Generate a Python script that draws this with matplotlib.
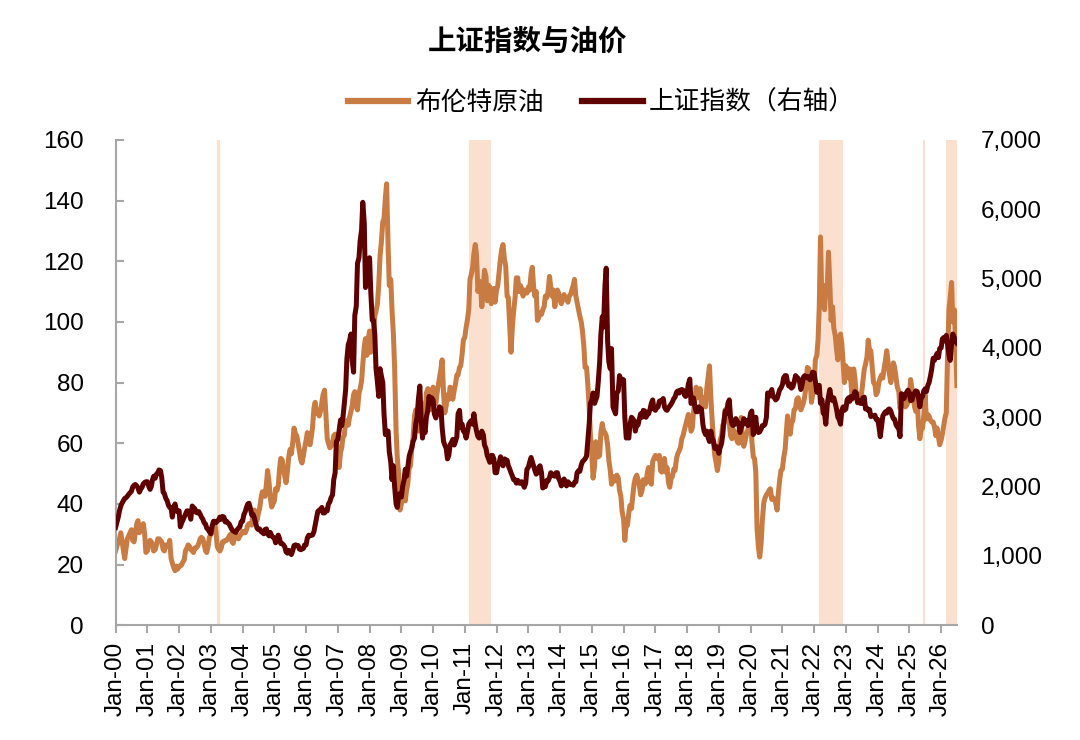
import numpy as np
import pandas as pd
import matplotlib
matplotlib.use("Agg")
import matplotlib.pyplot as plt
import matplotlib.dates as mdates
from matplotlib.ticker import FuncFormatter

plt.rcParams['font.family'] = ['Liberation Sans', 'Noto Sans CJK SC', 'DejaVu Sans']

# 半月度数据（每月1日与15日），2000-01 至 2026-07
dates = pd.date_range('2000-01-01', '2026-07-01', freq='SMS')

# 布伦特原油（美元/桶，左轴）
brent = [
    24.5, 26.0, 27.5, 28.5, 30.5, 28.0, 24.5, 22.0, 25.5, 28.5, 29.5, 30.5, 31.5, 28.0, 27.5, 30.5, 33.5, 34.5, 30.5, 32.5, 32.0, 33.5, 30.0, 24.0,  # 2000
    24.5, 26.5, 28.0, 27.5, 26.5, 24.5, 25.0, 26.5, 28.5, 28.5, 28.0, 27.5, 25.0, 24.5, 26.5, 26.0, 26.0, 28.0, 22.0, 20.5, 19.0, 18.0, 19.5, 18.5,  # 2001
    19.5, 19.5, 20.0, 21.0, 21.5, 24.5, 25.5, 26.5, 26.0, 25.0, 24.5, 24.0, 25.5, 25.5, 26.0, 27.0, 28.5, 29.0, 28.5, 27.0, 24.5, 24.0, 26.0, 29.0,  # 2002
    30.0, 31.0, 32.0, 33.5, 31.0, 26.0, 25.0, 24.5, 25.5, 27.5, 27.5, 28.0, 28.0, 28.5, 29.5, 30.0, 27.5, 27.0, 29.0, 30.0, 29.0, 28.5, 29.5, 30.0,  # 2003
    31.0, 30.5, 30.5, 31.5, 33.0, 33.5, 33.5, 33.0, 37.5, 38.0, 36.0, 34.5, 37.0, 38.5, 42.0, 44.0, 43.5, 42.5, 46.5, 51.0, 47.0, 42.0, 39.0, 40.0,  # 2004
    41.0, 45.0, 44.5, 46.0, 51.5, 55.0, 54.5, 51.5, 49.0, 47.0, 51.0, 55.5, 58.0, 56.5, 60.5, 65.0, 63.0, 62.5, 60.0, 57.5, 54.5, 53.5, 56.0, 58.5,  # 2005
    61.0, 63.5, 60.5, 59.5, 62.0, 65.0, 71.5, 73.5, 70.0, 70.0, 69.0, 70.5, 73.5, 76.0, 77.5, 70.0, 61.5, 60.0, 58.5, 59.0, 60.0, 62.5, 63.0, 61.5,  # 2006
    55.0, 52.0, 57.0, 58.5, 62.0, 62.5, 67.0, 67.5, 66.0, 68.5, 70.5, 72.5, 76.0, 77.0, 72.0, 71.0, 76.5, 78.0, 80.5, 86.0, 92.0, 94.5, 89.0, 94.0,  # 2007
    97.0, 90.0, 92.0, 96.0, 102.0, 103.5, 106.0, 112.0, 122.0, 126.0, 133.0, 134.0, 141.0, 145.5, 125.0, 112.0, 114.0, 104.0, 96.0, 85.0, 64.0, 55.0, 50.0, 38.0,  # 2008
    40.0, 46.5, 43.0, 41.0, 44.5, 46.5, 52.0, 52.5, 58.5, 61.5, 69.0, 71.0, 66.5, 64.0, 71.5, 73.5, 67.5, 69.5, 68.5, 76.5, 78.0, 77.5, 71.0, 75.0,  # 2009
    78.5, 74.5, 73.0, 76.5, 79.0, 81.5, 84.5, 87.5, 76.5, 70.0, 72.5, 76.0, 74.5, 78.5, 78.0, 74.5, 77.5, 79.5, 82.5, 82.5, 85.0, 85.5, 89.5, 94.0,  # 2010
    95.0, 98.0, 101.0, 104.0, 114.0, 115.5, 118.0, 122.5, 125.5, 122.0, 110.0, 113.5, 112.0, 105.0, 111.0, 117.0, 115.0, 107.0, 112.0, 111.5, 106.0, 110.0, 111.0, 106.5,  # 2011
    110.5, 112.0, 117.0, 121.0, 124.0, 125.5, 120.5, 118.5, 108.5, 108.0, 98.0, 90.0, 98.5, 103.5, 108.0, 114.5, 114.5, 110.0, 112.0, 111.0, 108.5, 110.5, 110.0, 109.5,  # 2012
    111.5, 110.5, 116.0, 118.0, 112.0, 108.5, 110.0, 100.5, 101.5, 103.0, 102.5, 104.0, 105.0, 108.5, 108.0, 110.0, 115.0, 111.5, 108.5, 110.5, 105.0, 108.0, 110.5, 109.5,  # 2013
    107.0, 106.0, 107.5, 109.0, 108.0, 107.5, 106.5, 108.5, 109.0, 110.5, 112.0, 114.0, 108.5, 106.5, 104.0, 102.0, 100.0, 97.0, 92.0, 85.0, 85.0, 79.5, 72.0, 63.0,  # 2014
    56.0, 48.5, 52.5, 60.5, 59.0, 55.5, 56.0, 63.5, 66.5, 64.0, 63.5, 62.5, 59.5, 54.5, 51.0, 46.5, 49.0, 47.5, 48.0, 49.5, 48.5, 44.5, 42.5, 37.5,  # 2015
    35.0, 28.0, 33.5, 33.0, 37.0, 39.5, 38.5, 42.5, 46.5, 48.5, 49.5, 48.0, 46.0, 43.0, 44.5, 48.0, 46.5, 47.0, 50.5, 52.0, 47.5, 46.5, 54.0, 55.0,  # 2016
    56.0, 55.0, 55.5, 56.0, 51.0, 50.5, 52.5, 55.0, 50.5, 52.0, 47.0, 45.5, 48.5, 49.0, 51.5, 51.0, 55.0, 56.5, 57.5, 58.5, 61.5, 62.5, 64.5, 66.0,  # 2017
    68.0, 69.5, 67.5, 64.0, 65.0, 70.0, 74.5, 78.5, 75.0, 76.5, 78.0, 72.5, 73.5, 75.0, 72.0, 78.0, 82.0, 85.5, 75.0, 68.0, 60.5, 56.0, 53.5, 51.0,  # 2018
    54.0, 61.0, 62.5, 66.0, 66.5, 71.0, 71.5, 71.5, 66.5, 62.5, 61.5, 64.5, 64.0, 62.5, 60.5, 60.0, 61.5, 68.5, 60.0, 59.0, 61.0, 63.0, 64.5, 66.0,  # 2019
    68.5, 61.0, 55.5, 55.0, 50.5, 32.0, 25.5, 22.5, 27.0, 34.5, 40.5, 42.0, 43.0, 43.5, 44.5, 45.0, 41.5, 42.0, 41.5, 40.5, 38.0, 43.5, 48.0, 51.0,  # 2020
    51.5, 55.0, 58.0, 63.5, 69.0, 65.0, 63.0, 66.5, 67.5, 71.0, 71.5, 74.5, 75.0, 73.0, 71.0, 72.0, 73.5, 75.5, 79.0, 85.0, 84.5, 81.0, 73.5, 76.0,  # 2021
    78.5, 87.5, 89.0, 94.0, 105.0, 128.0, 105.0, 112.0, 104.0, 112.0, 111.0, 123.0, 112.0, 100.5, 105.0, 98.0, 95.5, 91.0, 87.5, 94.5, 96.0, 93.0, 86.0, 80.0,  # 2022
    85.5, 84.5, 81.5, 84.5, 80.0, 74.5, 84.5, 81.5, 75.5, 76.0, 75.5, 76.0, 76.5, 80.0, 84.5, 86.0, 88.5, 94.0, 90.5, 90.5, 84.5, 80.0, 79.5, 76.0,  # 2023
    77.0, 80.0, 81.5, 82.5, 81.5, 84.5, 87.5, 90.5, 86.5, 83.0, 80.0, 82.5, 86.5, 85.0, 81.5, 78.5, 77.0, 71.5, 73.0, 74.5, 73.5, 72.0, 72.5, 73.5,  # 2024
    76.0, 81.0, 77.5, 75.0, 72.0, 70.5, 75.0, 66.0, 61.5, 64.5, 65.0, 69.0, 76.0, 68.0, 69.5, 69.0, 67.5, 67.0, 67.0, 65.5, 62.5, 65.0, 62.0, 59.5,  # 2025
    61.0, 63.0, 66.0, 68.5, 70.0, 88.0, 104.0, 108.0, 113.0, 100.0, 104.0, 95.0, 79.0,  # 2026
]

# 上证指数（右轴）
shanghai = [
    1410, 1480, 1560, 1650, 1720, 1760, 1800, 1830, 1840, 1860, 1890, 1910, 1930, 1990, 2020, 2030, 2010, 1980, 1920, 1960, 1990, 2040, 2060, 2070,  # 2000
    2070, 2010, 1960, 2000, 2100, 2150, 2120, 2180, 2200, 2240, 2230, 2130, 1920, 1900, 1830, 1800, 1730, 1700, 1690, 1560, 1700, 1750, 1650, 1640,  # 2001
    1650, 1420, 1480, 1520, 1560, 1600, 1650, 1650, 1600, 1530, 1720, 1700, 1680, 1630, 1620, 1640, 1600, 1560, 1530, 1480, 1460, 1400, 1380, 1350,  # 2002
    1320, 1430, 1500, 1500, 1480, 1500, 1520, 1560, 1530, 1570, 1560, 1490, 1500, 1480, 1460, 1420, 1380, 1360, 1350, 1340, 1380, 1400, 1420, 1490,  # 2003
    1500, 1590, 1640, 1700, 1750, 1760, 1680, 1590, 1600, 1550, 1470, 1400, 1380, 1390, 1350, 1340, 1320, 1380, 1390, 1320, 1290, 1340, 1290, 1270,  # 2004
    1260, 1190, 1250, 1300, 1250, 1180, 1180, 1160, 1130, 1060, 1040, 1080, 1060, 1020, 1080, 1150, 1160, 1150, 1150, 1100, 1090, 1100, 1110, 1160,  # 2005
    1160, 1260, 1300, 1290, 1300, 1300, 1350, 1440, 1550, 1640, 1660, 1670, 1700, 1620, 1620, 1660, 1650, 1750, 1780, 1840, 1880, 2100, 2200, 2650,  # 2006
    2680, 2800, 2960, 2880, 3000, 3180, 3400, 3840, 4050, 4100, 4200, 3820, 3650, 4470, 4600, 5220, 5300, 5550, 5700, 6100, 5800, 4870, 5000, 5260,  # 2007
    5300, 4800, 4400, 4400, 4200, 3700, 3500, 3300, 3700, 3600, 3500, 3050, 2750, 2800, 2800, 2500, 2350, 2100, 2300, 2000, 1750, 1700, 1880, 1900,  # 2008
    1850, 2000, 2100, 2250, 2150, 2270, 2440, 2500, 2560, 2650, 2700, 2900, 3000, 3250, 3450, 3000, 2700, 2850, 2780, 3000, 3100, 3300, 3200, 3280,  # 2009
    3250, 3050, 2990, 3050, 3070, 3150, 3130, 2850, 2650, 2600, 2550, 2400, 2450, 2600, 2640, 2680, 2600, 2650, 2720, 3050, 3100, 2850, 2900, 2800,  # 2010
    2780, 2700, 2800, 2900, 2930, 2950, 2900, 3050, 2900, 2800, 2720, 2700, 2750, 2800, 2750, 2600, 2550, 2450, 2400, 2350, 2450, 2450, 2400, 2200,  # 2011
    2200, 2300, 2350, 2430, 2350, 2300, 2400, 2380, 2380, 2300, 2250, 2200, 2150, 2100, 2100, 2050, 2090, 2050, 2050, 2070, 2030, 1990, 2050, 2250,  # 2012
    2280, 2350, 2420, 2360, 2300, 2240, 2180, 2200, 2280, 2300, 2200, 1980, 2000, 2000, 2090, 2080, 2130, 2200, 2180, 2160, 2150, 2200, 2200, 2120,  # 2013
    2070, 2010, 2050, 2110, 2060, 2010, 2070, 2050, 2030, 2030, 2020, 2060, 2070, 2200, 2230, 2220, 2310, 2360, 2380, 2400, 2440, 2650, 2900, 3200,  # 2014
    3250, 3350, 3200, 3250, 3300, 3500, 3800, 4200, 4450, 4300, 4900, 5150, 4100, 3800, 3700, 3990, 3150, 3100, 3050, 3350, 3380, 3600, 3500, 3550,  # 2015
    3540, 3000, 2700, 2750, 2700, 2900, 3000, 2980, 2950, 2800, 2900, 2890, 2980, 3050, 3000, 3100, 3090, 3000, 3040, 3050, 3120, 3200, 3250, 3120,  # 2016
    3100, 3140, 3150, 3230, 3240, 3230, 3270, 3150, 3110, 3100, 3140, 3160, 3190, 3220, 3270, 3290, 3360, 3380, 3350, 3390, 3400, 3390, 3320, 3300,  # 2017
    3350, 3480, 3550, 3200, 3250, 3280, 3150, 3080, 3080, 3150, 3100, 3120, 2900, 2800, 2750, 2800, 2700, 2650, 2800, 2700, 2650, 2550, 2580, 2550,  # 2018
    2480, 2560, 2620, 2750, 2950, 3090, 3050, 3200, 3250, 3000, 2900, 2880, 2900, 2980, 2930, 2920, 2780, 2850, 2900, 2980, 2910, 2950, 2880, 2930,  # 2019
    3060, 3090, 2750, 2920, 3000, 2800, 2780, 2790, 2830, 2880, 2880, 2900, 3000, 3350, 3300, 3350, 3400, 3300, 3280, 3250, 3270, 3330, 3400, 3420,  # 2020
    3470, 3570, 3600, 3600, 3500, 3450, 3480, 3420, 3440, 3500, 3600, 3580, 3560, 3530, 3400, 3470, 3580, 3600, 3570, 3590, 3560, 3540, 3600, 3650,  # 2021
    3640, 3520, 3360, 3450, 3460, 3200, 3250, 3060, 3050, 2900, 3180, 3300, 3400, 3280, 3240, 3280, 3200, 3120, 3000, 2970, 2900, 3100, 3150, 3100,  # 2022
    3120, 3250, 3280, 3230, 3300, 3270, 3320, 3370, 3350, 3210, 3240, 3200, 3200, 3280, 3290, 3120, 3130, 3100, 3110, 3010, 3020, 3020, 3030, 2970,  # 2023
    2970, 2880, 2720, 2860, 3020, 3050, 3080, 3060, 3110, 3120, 3090, 3030, 2980, 2970, 2890, 2860, 2840, 2720, 3340, 3280, 3270, 3330, 3360, 3390,  # 2024
    3350, 3240, 3250, 3320, 3350, 3380, 3370, 3290, 3150, 3280, 3300, 3380, 3410, 3370, 3460, 3500, 3600, 3700, 3850, 3820, 3880, 3920, 3860, 3990,  # 2025
    4000, 4130, 4150, 4100, 4180, 4060, 3900, 3820, 4050, 4200, 4150, 4100, 4070,  # 2026
]

# 阴影区间（地缘冲突时期）
shade_start = ['2003-03-15', '2011-02-20', '2022-02-24', '2025-06-08', '2026-02-28']
shade_end = ['2003-04-15', '2011-11-01', '2022-12-01', '2025-06-28', '2026-07-01']

c_oil = '#C87B42'
c_sh = '#5E0000'
c_shade = '#FBE0CF'
c_axis = '#A6A6A6'

fig = plt.figure(figsize=(10.8, 7.4), dpi=100)
ax = fig.add_axes([0.107, 0.155, 0.779, 0.656])
ax2 = ax.twinx()

for s, e in zip(shade_start, shade_end):
    ax.axvspan(pd.Timestamp(s), pd.Timestamp(e), color=c_shade, lw=0, zorder=0)

l1, = ax.plot(dates, brent, color=c_oil, lw=3.6, label='布伦特原油', zorder=2)
l2, = ax2.plot(dates, shanghai, color=c_sh, lw=3.6, label='上证指数（右轴）', zorder=3)

ax.set_xlim(pd.Timestamp('2000-01-01'), pd.Timestamp('2026-07-01'))
ax.set_ylim(0, 160)
ax.set_yticks(np.arange(0, 161, 20))
ax2.set_ylim(0, 7000)
ax2.set_yticks(np.arange(0, 7001, 1000))
ax2.yaxis.set_major_formatter(FuncFormatter(lambda v, p: f'{int(v):,}'))

ax.xaxis.set_major_locator(mdates.YearLocator())
ax.xaxis.set_major_formatter(mdates.DateFormatter('%b-%y'))
plt.setp(ax.get_xticklabels(), rotation=90)

for sp in ['top', 'right']:
    ax.spines[sp].set_visible(False)
for sp in ax2.spines.values():
    sp.set_visible(False)
ax.spines['left'].set_color(c_axis)
ax.spines['bottom'].set_color(c_axis)
ax.spines['left'].set_linewidth(1.5)
ax.spines['bottom'].set_linewidth(1.5)

ax.tick_params(axis='y', direction='in', length=6, width=1.5, color=c_axis,
               labelsize=17.5, pad=23)
ax.tick_params(axis='x', direction='out', length=6, width=1.5, color=c_axis,
               labelsize=17.5, pad=6)
ax2.tick_params(axis='y', length=0, labelsize=17.5, pad=17.5)

fig.text(0.488, 0.943, '上证指数与油价', ha='center', va='center',
         fontsize=20.5, fontweight='bold', family=['Noto Sans CJK SC'])

fig.legend(handles=[l1, l2], loc='center', bbox_to_anchor=(0.557, 0.861),
           ncol=2, frameon=False, handlelength=2.35, handletextpad=0.25,
           columnspacing=1.5, prop={'family': ['Noto Sans CJK SC'], 'size': 18.5})
for line in fig.legends[0].get_lines():
    line.set_linewidth(4.5)

fig.savefig('out.png', dpi=100)
